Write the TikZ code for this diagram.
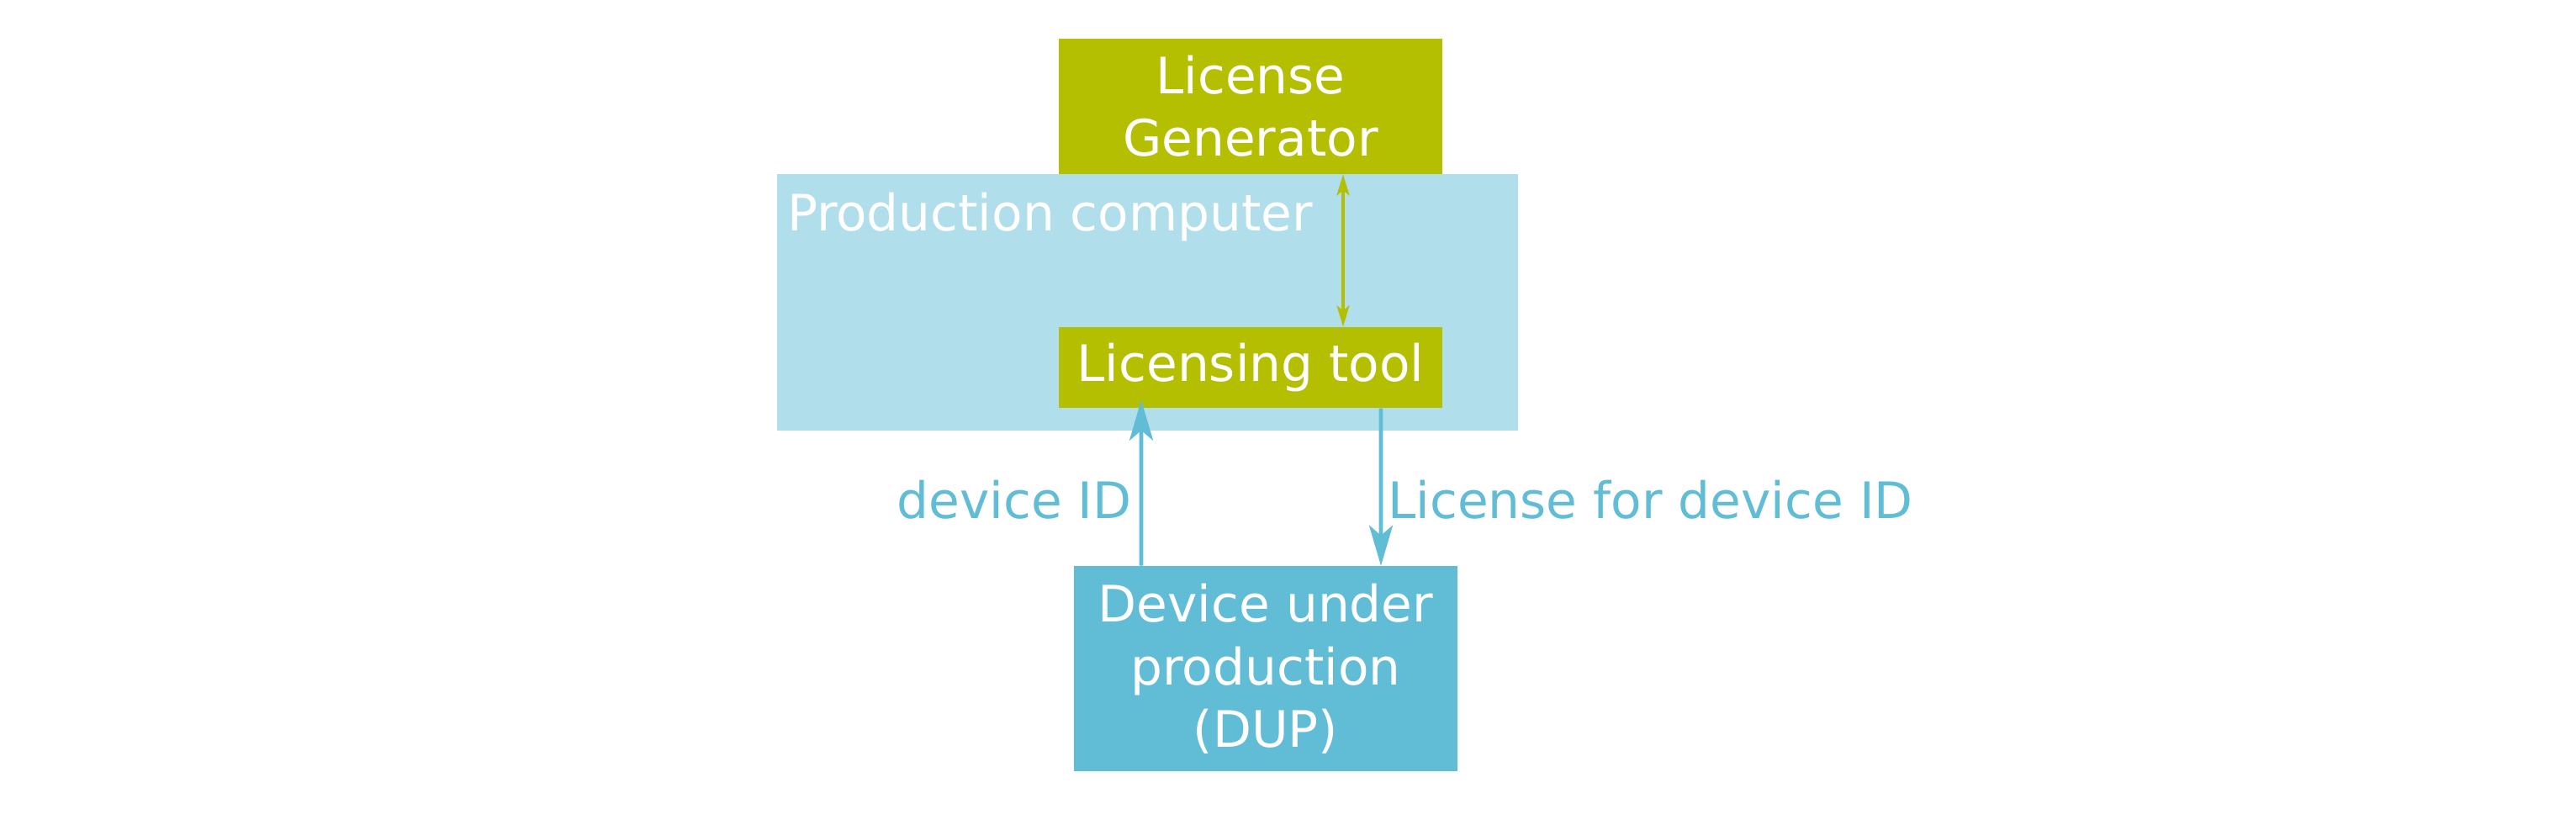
\documentclass[tikz,border=0pt]{standalone}
\usepackage{fontspec}
\setmainfont{DejaVu Sans}
\usetikzlibrary{positioning,arrows.meta}
\definecolor{lgreen}{HTML}{B3BF00}
\definecolor{pcblue}{HTML}{B0DEEA}
\definecolor{dupblue}{HTML}{61BCD5}
\tikzset{
  >=Stealth,
  box/.style={
    fill=lgreen,
    text=white,
    align=center,
    inner sep=0pt,
    minimum width=4.56cm
  },
  genlink/.style={<->, draw=lgreen, line width=1.1pt, >={Stealth[length=2.5mm,width=1.5mm,inset=0.6mm]}},
  idlink/.style={->, draw=dupblue, line width=1.4pt, >={Stealth[length=4.8mm,width=2.8mm,inset=1.2mm]}},
  lbl/.style={text=dupblue, inner sep=0pt}
}

\begin{document}
\begin{tikzpicture}[font=\fontsize{17pt}{21.2pt}\selectfont]
  \useasboundingbox (0,0) rectangle (30.63,9.80);
  \node[fill=pcblue, minimum width=8.81cm, minimum height=3.05cm, inner sep=0pt] (pc) at (13.645,6.205) {};
  \node[anchor=base west, text=white, inner sep=0pt] (pctext) at ([xshift=0.12cm,yshift=-0.68cm]pc.north west) {Production computer};
  \node[box, minimum height=0.96cm] (lt) at (14.87,5.43) {Licensing tool};
  \node[box, minimum height=1.61cm, above=1.81cm of lt] (lg) {License\\Generator};
  \node[box, fill=dupblue, minimum height=2.44cm, below=1.87cm of lt, xshift=0.18cm] (dup) {Device under\\production\\(DUP)};

  \draw[genlink] ([xshift=1.1cm]lg.south) -- ([xshift=1.1cm]lt.north);
  \draw[idlink, shorten >=-0.1cm] ([xshift=-1.48cm]dup.north) -- ([xshift=-1.30cm]lt.south)
       node[pos=0.42, left=0.09cm, lbl] {device ID};
  \draw[idlink] ([xshift=1.55cm]lt.south) -- ([xshift=1.37cm]dup.north)
       node[pos=0.58, right=0.06cm, lbl] {License for device ID};
\end{tikzpicture}
\end{document}
